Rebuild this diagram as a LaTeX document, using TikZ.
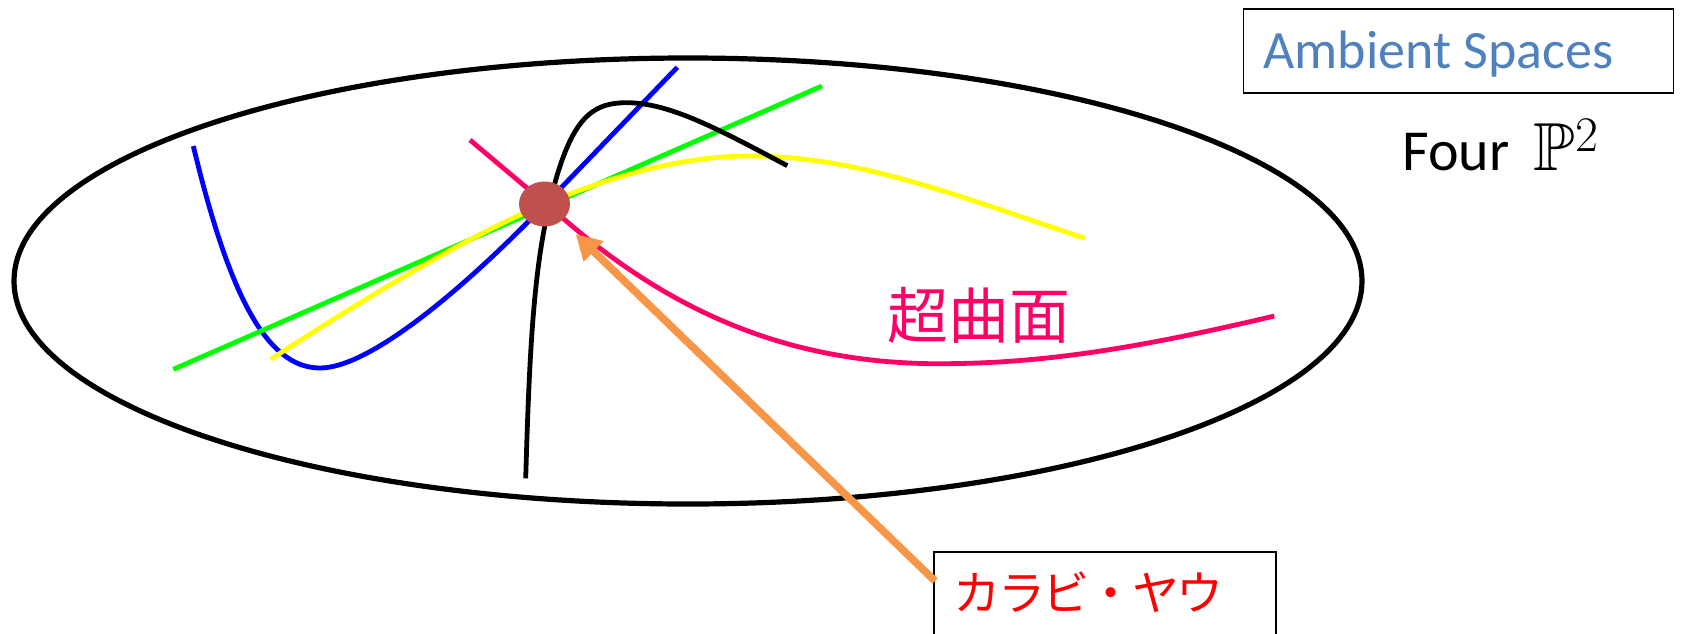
\documentclass[tikz,border=0pt]{standalone}
\usepackage{fontspec}
\usepackage{amssymb}
\setmainfont{Carlito}
\newfontfamily\cjk{Noto Sans CJK JP}
\newfontfamily\cjktight[LetterSpace=-5]{Noto Sans CJK JP}
\usetikzlibrary{arrows.meta,shapes.geometric}
\definecolor{cblue}{HTML}{0000FF}
\definecolor{cgreen}{HTML}{00FF00}
\definecolor{cyellow}{HTML}{FFFF00}
\definecolor{cpink}{HTML}{FF0066}
\definecolor{dotred}{HTML}{C0504D}
\definecolor{corange}{HTML}{F79646}
\definecolor{ambblue}{HTML}{4F81BD}
\definecolor{cred}{HTML}{FF0000}
\begin{document}
\begin{tikzpicture}[x=0.5pt,y=-0.5pt,
  curve/.style={line width=2.4pt, line join=round},
  labelbox/.style={draw, line width=0.8pt, inner sep=0pt, anchor=north west},
  arrowline/.style={draw=corange, line width=3.8pt, -{Triangle[length=12.5pt,width=13.5pt]}, shorten >=9.5pt}]
\useasboundingbox (0,0) rectangle (1681,633);
\clip (0,0) rectangle (1681,633);
% ambient space
\draw[line width=2.6pt] (688,281) ellipse [x radius=337pt, y radius=111.5pt];
% curves
\draw[curve, cblue] (193.3,146) .. controls (228,290) and (265,368) .. (320,368)
  .. controls (370,368) and (464.5,288) .. (544.5,205) -- (677.3,67.3);
\draw[curve, cgreen] (173.3,369.3) -- (822,86);
\draw[curve, cyellow] (270.7,359.3) .. controls (370,295) and (470,235) .. (544.5,204)
  .. controls (610,177) and (680,156) .. (750,156)
  .. controls (860,156) and (960,197) .. (1085,238.3);
\draw[curve, black] (525.7,478.3) .. controls (530,330) and (535,250) .. (556.7,176.7)
  .. controls (575,115) and (595,102.7) .. (626.7,102.7)
  .. controls (670,102.7) and (720,130) .. (787.3,165.7);
\draw[curve, cpink] (470,140) -- (565,220) .. controls (670,310) and (790,368) .. (958,363.5)
  .. controls (1060,362) and (1160,343) .. (1274.3,316);
% Calabi-Yau point
\node[ellipse, fill=dotred, minimum width=25.5pt, minimum height=22.5pt, inner sep=0pt] (cy) at (544.5,204) {};
% labels
\node[text=cpink, inner sep=0pt, anchor=west, font=\cjk\fontsize{30.5}{36}\selectfont] (hyp) at (887,315.5) {超曲面};
\node[labelbox, minimum width=215pt, minimum height=42pt] (ambbox) at (1242.7,8.3) {};
\node[text=ambblue, inner sep=0pt, anchor=base west, font=\fontsize{27}{32}\selectfont] (ambtxt) at (1263,68) {Ambient Spaces};
\node[inner sep=0pt, anchor=base west, font=\fontsize{29}{35}\selectfont] (four) at (1402,170) {Four\hspace{12pt}{\fontsize{34}{40}\selectfont$\mathbb{P}^2$}};
\node[labelbox, minimum width=171pt, minimum height=60pt] (cybox) at (933,551) {};
\node[text=cred, inner sep=0pt, anchor=west, font=\cjktight\fontsize{23.5}{28}\selectfont] (cytxt) at (953,592) {カラビ・ヤウ};
% arrow
\coordinate (arrstart) at (935,581);
\draw[arrowline] (arrstart) -- (cy);
\end{tikzpicture}
\end{document}
